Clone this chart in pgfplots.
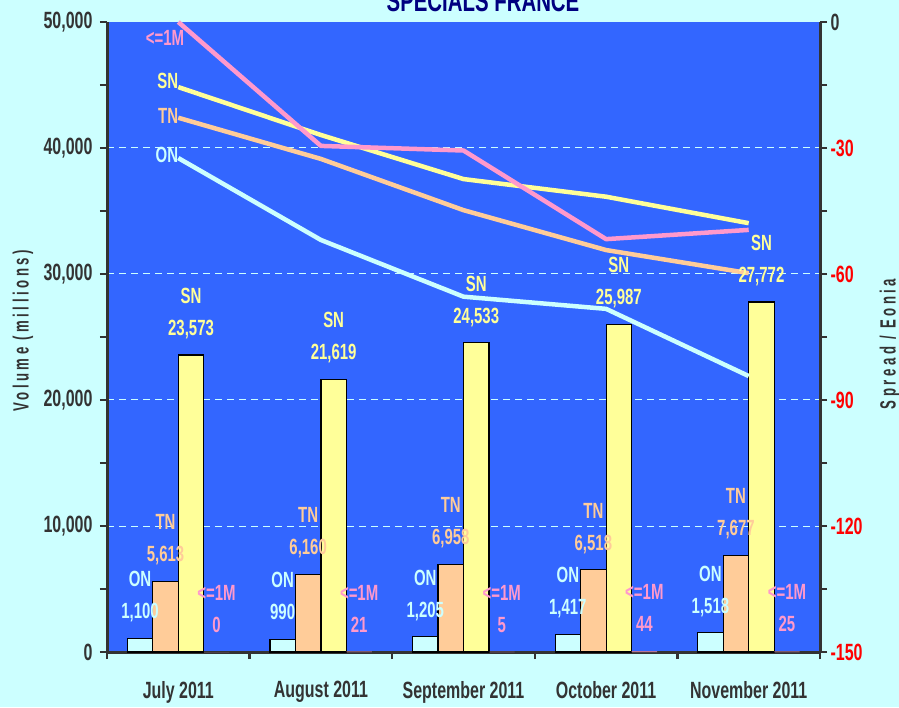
\documentclass[border=0pt]{standalone}
\usepackage{fontspec}
\setmainfont{Liberation Sans}[FakeStretch=0.68]
\newfontfamily\spacedfont{Liberation Sans}[FakeStretch=0.6, LetterSpace=16]
\usepackage{pgfplots}
\pgfplotsset{compat=1.18}
\pgfplotsset{/pgf/number format/assume math mode=true}
\definecolor{bgc}{HTML}{CCFFFF}
\definecolor{plotbg}{HTML}{3366FF}
\definecolor{onc}{HTML}{CCFFFF}
\definecolor{tnc}{HTML}{FFCC99}
\definecolor{snc}{HTML}{FFFF99}
\definecolor{mc}{HTML}{FF99CC}
\definecolor{axisgray}{HTML}{333333}
\definecolor{titlec}{HTML}{000080}
\definecolor{gridc}{HTML}{CCFFFF}
\newcommand{\lblfont}{\bfseries\fontsize{22}{26}\selectfont}
\newcommand{\tckfont}{\bfseries\fontsize{23.5}{27}\selectfont}
\pgfplotsset{
  common/.style={
    at={(107pt,55pt)}, anchor=south west, scale only axis,
    width=713pt, height=630pt, xmin=-0.5, xmax=4.5,
  },
  barlbl/.style 2 args={
    nodes near coords={#1\\[6pt]\pgfmathprintnumber[fixed,precision=0,1000 sep={,}]{\pgfplotspointmeta}},
    every node near coord/.append style={align=center, font=\lblfont, anchor=south, inner sep=0pt, text depth=0pt, yshift=19.5pt, xshift=#2},
  },
}
\begin{document}
\begin{tikzpicture}
\fill[bgc] (0,0) rectangle (899pt,707pt);
\useasboundingbox (0,0) rectangle (899pt,707pt);
% title (partly cut off at the top, as in the reference)
\node[anchor=base, text=titlec, font=\bfseries\fontsize{30}{34}\selectfont, inner sep=0pt] at (483pt,695pt) {SPECIALS FRANCE};
% axis titles
\node[rotate=90, text=axisgray, font=\spacedfont\bfseries\fontsize{22}{26}\selectfont, inner sep=0pt] at (23pt,376pt) {Volume (millions)};
\node[rotate=90, text=axisgray, font=\spacedfont\bfseries\fontsize{22}{26}\selectfont, inner sep=0pt] at (890pt,363pt) {Spread / Eonia};

% ---------- bars (left axis) ----------
\begin{axis}[common,
  ymin=0, ymax=50000, scaled y ticks=false,
  axis background/.style={fill=plotbg},
  axis x line*=bottom, axis y line*=left,
  axis line style={line width=3pt, draw=axisgray},
  xtick={-0.5,0.5,1.5,2.5,3.5,4.5}, xticklabels={,,,,,},
  extra x ticks={0,1,2,3,4},
  extra x tick labels={July 2011,August 2011,September 2011,October 2011,November 2011},
  extra x tick style={major tick length=0pt},
  xticklabel style={font=\tckfont, text=axisgray, anchor=north, inner sep=0pt, yshift=-29pt},
  ytick={0,10000,20000,30000,40000,50000},
  yticklabels={0,{10,000},{20,000},{30,000},{40,000},{50,000}},
  minor ytick={5000,15000,25000,35000,45000},
  yticklabel style={font=\tckfont, text=axisgray, xshift=-4pt},
  tick align=outside, major tick length=7pt, minor tick length=7pt,
  tick style={line width=2.5pt, color=axisgray},
  ymajorgrids,
  major grid style={dash pattern=on 7pt off 5pt, draw=gridc, line width=1pt},
]
\addplot[ybar, bar width=25.5pt, bar shift=-38.25pt, fill=onc, draw=black, line width=1.2pt]
  coordinates {(0,1100) (1,990) (2,1205) (3,1417) (4,1518)};
\addplot[ybar, bar width=25.5pt, bar shift=-12.75pt, fill=tnc, draw=black, line width=1.2pt]
  coordinates {(0,5613) (1,6160) (2,6958) (3,6518) (4,7677)};
\addplot[ybar, bar width=25.5pt, bar shift=12.75pt, fill=snc, draw=black, line width=1.2pt]
  coordinates {(0,23573) (1,21619) (2,24533) (3,25987) (4,27772)};
\addplot[ybar, bar width=25.5pt, bar shift=38.25pt, fill=mc, draw=none]
  coordinates {(0,0) (1,21) (2,5) (3,44) (4,25)};
\end{axis}

% ---------- lines (right axis) ----------
\begin{axis}[common,
  ymin=-150, ymax=0, clip=false,
  hide x axis,
  axis y line*=right,
  axis line style={line width=3pt, draw=axisgray},
  ytick={-150,-120,-90,-60,-30,0},
  yticklabels={-150,-120,-90,-60,-30,\textcolor{axisgray}{0}},
  minor ytick={-135,-105,-75,-45,-15},
  yticklabel style={font=\tckfont, text=red},
  tick align=outside, major tick length=7pt, minor tick length=7pt,
  tick style={line width=2.5pt, color=axisgray},
]
\addplot[color=onc, line width=4.5pt, line join=round, mark=none]
  coordinates {(0,-32.4) (1,-51.9) (2,-65.4) (3,-68.3) (4,-84.3)};
\addplot[color=tnc, line width=4.5pt, line join=round, mark=none]
  coordinates {(0,-22.8) (1,-32.6) (2,-44.8) (3,-54.3) (4,-59.8)};
\addplot[color=snc, line width=4.5pt, line join=round, mark=none]
  coordinates {(0,-15.5) (1,-26.9) (2,-37.4) (3,-41.6) (4,-47.9)};
\addplot[color=mc, line width=4.5pt, line join=round, mark=none]
  coordinates {(0,0) (1,-29.5) (2,-30.6) (3,-51.7) (4,-49.5)};
\node[anchor=east, text=mc, font=\lblfont, inner sep=0pt, xshift=6pt, yshift=-16pt] at (axis cs:0,0) {<=1M};
\node[anchor=east, text=snc, font=\lblfont, inner sep=0pt, yshift=6pt] at (axis cs:0,-15.5) {SN};
\node[anchor=east, text=tnc, font=\lblfont, inner sep=0pt, yshift=2pt] at (axis cs:0,-22.8) {TN};
\node[anchor=east, text=onc, font=\lblfont, inner sep=0pt, yshift=3pt] at (axis cs:0,-32.4) {ON};
\end{axis}

% ---------- bar value labels ----------
\begin{axis}[common, ymin=0, ymax=50000, hide axis, clip=false]
\addplot[ybar, bar width=25.5pt, bar shift=-38.25pt, draw=none, fill=none, barlbl={ON}{-38.25pt},
  every node near coord/.append style={text=onc}]
  coordinates {(0,1100) (1,990) (2,1205) (3,1417) (4,1518)};
\addplot[ybar, bar width=25.5pt, bar shift=-12.75pt, draw=none, fill=none, barlbl={TN}{-12.75pt},
  every node near coord/.append style={text=tnc}]
  coordinates {(0,5613) (1,6160) (2,6958) (3,6518) (4,7677)};
\addplot[ybar, bar width=25.5pt, bar shift=12.75pt, draw=none, fill=none, barlbl={SN}{12.75pt},
  every node near coord/.append style={text=snc}]
  coordinates {(0,23573) (1,21619) (2,24533) (3,25987) (4,27772)};
\addplot[ybar, bar width=25.5pt, bar shift=38.25pt, draw=none, fill=none, barlbl={<=1M}{38.25pt},
  every node near coord/.append style={text=mc}]
  coordinates {(0,0) (1,21) (2,5) (3,44) (4,25)};
\end{axis}
\end{tikzpicture}
\end{document}
